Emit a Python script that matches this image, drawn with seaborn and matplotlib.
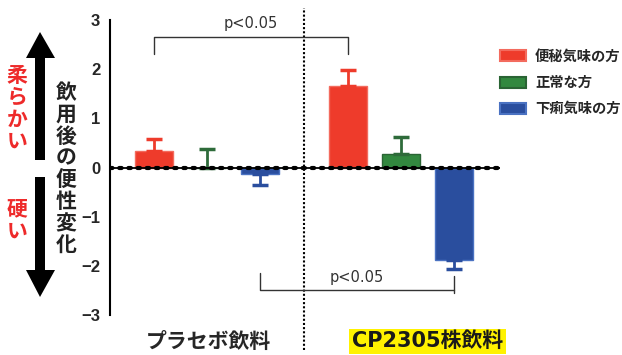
import numpy as np
import pandas as pd
import matplotlib
matplotlib.use('Agg')
import matplotlib.pyplot as plt
from matplotlib.patches import Patch, Polygon
import seaborn as sns

# data
groups = ['プラセボ飲料', 'CP2305株飲料']
types = ['便秘気味の方', '正常な方', '下痢気味の方']
placebo_mean = [0.33, 0.0, -0.14]
placebo_err = [0.24, 0.37, 0.21]
cp_mean = [1.65, 0.28, -1.88]
cp_err = [0.33, 0.35, 0.18]
yticks = [-3, -2, -1, 0, 1, 2, 3]
p_text = 'p<0.05'

face = {'便秘気味の方': '#EE3B2B', '正常な方': '#32883F', '下痢気味の方': '#2A4E9E'}
edge = {'便秘気味の方': '#F36B5E', '正常な方': '#2A6434', '下痢気味の方': '#4A72C2'}
errc = {'便秘気味の方': '#EE3B2B', '正常な方': '#2E6B3A', '下痢気味の方': '#2A4E9E'}

sns.set_theme(style='white')
plt.rcParams['font.family'] = ['Noto Sans CJK JP', 'DejaVu Sans']
latin_cjk = ['DejaVu Sans', 'Noto Sans CJK JP']

# layout: bars 1 unit apart, group gap 1.66
gap = 3.66
rows = []
for g, (means, errs) in enumerate([(placebo_mean, placebo_err), (cp_mean, cp_err)]):
    for i, t in enumerate(types):
        rows.append({'group': groups[g], 'type': t, 'pos': g * gap + i,
                     'val': means[i], 'err': errs[i]})
df = pd.DataFrame(rows)

fig = plt.figure(figsize=(6.22, 3.55), dpi=100)
ax = fig.add_axes([110 / 622, 1 - 315 / 355, 390 / 622, 295 / 355])

sns.barplot(data=df, x='pos', y='val', hue='type', palette=face, hue_order=types,
            native_scale=True, dodge=False, width=0.72, errorbar=None,
            legend=False, ax=ax, linewidth=1, saturation=1)
for p in ax.patches:
    cx = p.get_x() + p.get_width() / 2
    t = df.loc[(df['pos'] - cx).abs().idxmin(), 'type']
    p.set_edgecolor(edge[t])

# one-sided error bars
for _, r in df.iterrows():
    lo, hi = (0, r['err']) if r['val'] >= 0 else (r['err'], 0)
    ax.errorbar(r['pos'], r['val'], yerr=[[lo], [hi]], color=errc[r['type']],
                elinewidth=2, capsize=6, capthick=2.5, zorder=3)

ax.set_xlim(-0.83, 6.53)
ax.set_ylim(-3, 3)
ax.set_yticks(yticks)
ax.set_yticklabels([str(v).replace('-', '−') for v in yticks],
                   fontsize=12, fontweight='bold', family='Liberation Sans')
ax.set_xticks([])
ax.set_xlabel('')
ax.set_ylabel('')
for s in ['top', 'right', 'bottom']:
    ax.spines[s].set_visible(False)
ax.spines['left'].set_linewidth(1.5)
ax.spines['left'].set_color('black')
ax.tick_params(axis='y', direction='out', length=4, width=1.5, color='black', pad=3)

# dotted zero line
ax.axhline(0, color='black', lw=1.3, zorder=4)
ax.axhline(0, color='black', lw=3, ls=(0, (0.6, 1.6)), dash_capstyle='round', zorder=4)

# vertical divider
mid = (2 + gap) / 2
ax.plot([mid, mid], [-3.72, 3.25], color='black', lw=1.5, ls=(0, (1, 1)),
        clip_on=False, zorder=2)

# significance brackets
x1, x2 = 0, gap
ax.plot([x1, x1, x2, x2], [2.31, 2.65, 2.65, 2.31], color='#333333', lw=1)
ax.text((x1 + x2) / 2, 2.93, p_text, ha='center', va='center', fontsize=10.5,
        color='#333333', family='DejaVu Sans')
x1, x2 = 2, gap + 2
ax.plot([x1, x1, x2], [-2.14, -2.49, -2.49], color='#333333', lw=1)
ax.plot([x2, x2], [-2.2, -2.55], color='#333333', lw=1)
ax.text((x1 + x2) / 2, -2.23, p_text, ha='center', va='center', fontsize=10.5,
        color='#333333', family='DejaVu Sans')

# group labels
ax.text(1.03, -3.53, groups[0], ha='center', va='center', fontsize=15,
        fontweight='bold', clip_on=False)
ax.text(gap + 1.5, -3.53, groups[1], ha='center', va='center', fontsize=15,
        fontweight='bold', family=latin_cjk, color='#1a1a1a', clip_on=False,
        bbox=dict(boxstyle='square,pad=0.12', fc='#FFF200', ec='none'))

# legend
handles = [Patch(facecolor=face[t], edgecolor=edge[t], lw=1.5) for t in types]
fig.legend(handles, types, loc='upper left', bbox_to_anchor=(487 / 622, 1 - 37 / 355),
           frameon=False, handlelength=1.8, handleheight=0.8,
           labelspacing=0.85, handletextpad=0.65,
           prop={'weight': 'bold', 'size': 10.3})

# left-hand arrows and vertical labels
def fx(x):
    return x / 622

def fy(y):
    return 1 - y / 355

up = [(35, 160), (35, 58), (26, 58), (40, 32), (55, 58), (45, 58), (45, 160)]
dn = [(35, 177), (35, 270), (26, 270), (40, 297), (55, 270), (45, 270), (45, 177)]
for pts in (up, dn):
    fig.patches.append(Polygon([(fx(a), fy(b)) for a, b in pts], closed=True,
                               transform=fig.transFigure, fc='black', ec='none'))

fig.text(fx(17), fy(108), '\n'.join('柔らかい'), ha='center', va='center',
         color='#EE2A2A', fontsize=15, fontweight='bold', linespacing=1.05)
fig.text(fx(17), fy(220), '\n'.join('硬い'), ha='center', va='center',
         color='#EE2A2A', fontsize=15, fontweight='bold', linespacing=1.05)
fig.text(fx(66), fy(169), '\n'.join('飲用後の便性変化'), ha='center', va='center',
         color='#222222', fontsize=15, fontweight='bold', linespacing=1.05)

fig.savefig('out.png', dpi=100)
